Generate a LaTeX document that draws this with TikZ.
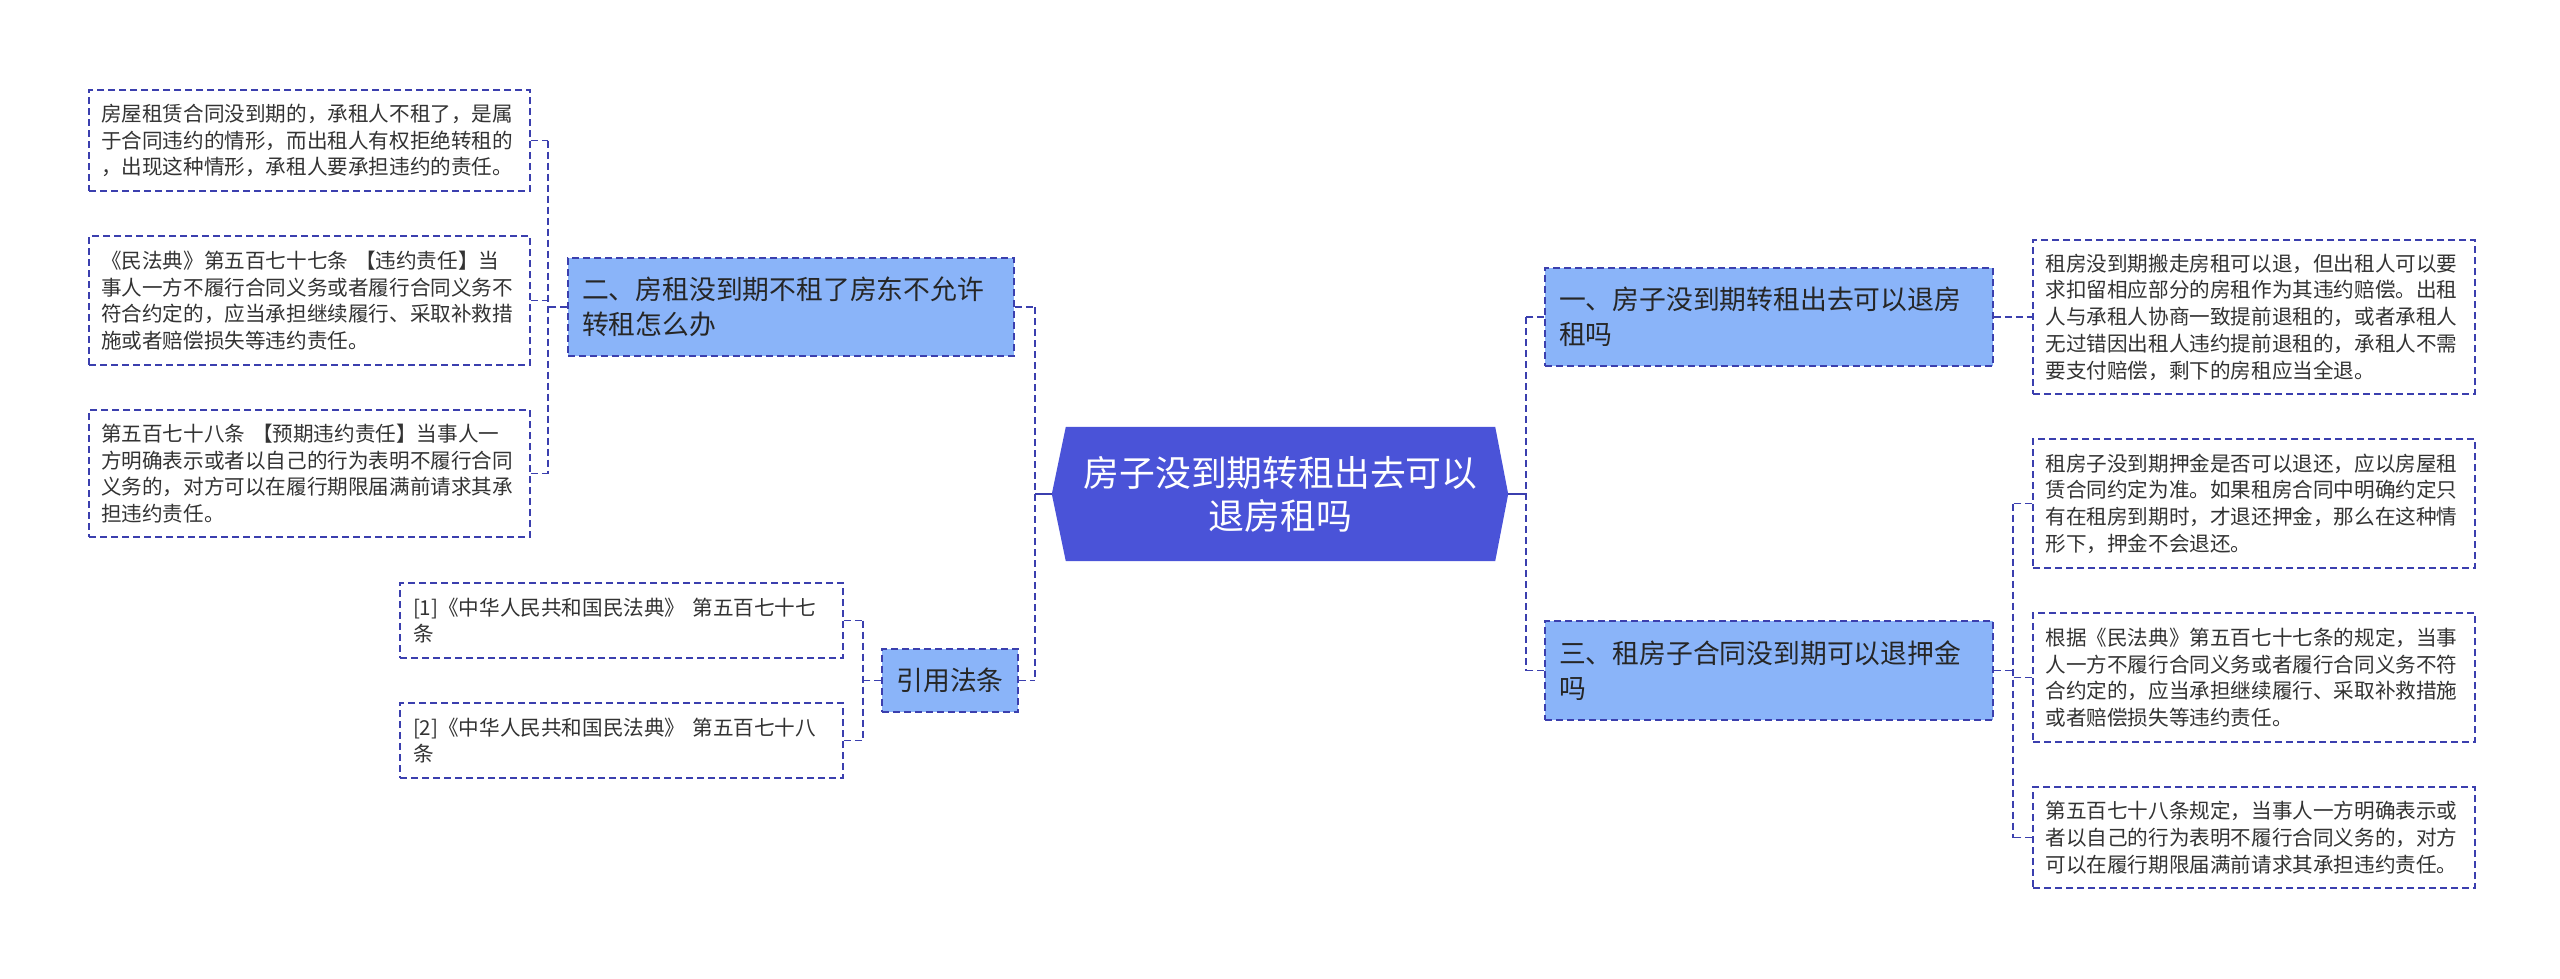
\documentclass[tikz,border=0pt]{standalone}
\usepackage{fontspec}
\setmainfont{Noto Sans CJK SC}
\usetikzlibrary{backgrounds}
\definecolor{rootblue}{HTML}{4A53D8}
\definecolor{lvlblue}{HTML}{8AB4F9}
\definecolor{linkblue}{HTML}{3B3FAE}
\definecolor{txtgray}{HTML}{333333}
\tikzset{
  conn/.style={draw=linkblue, line width=1.5pt, dash pattern=on 7pt off 4pt},
  solidconn/.style={draw=linkblue, line width=1.8pt},
  leafbox/.style={draw=linkblue, line width=1.5pt, dash pattern=on 7pt off 4pt,
     fill=white, minimum width=441pt, inner sep=0pt, text width=417pt, align=left,
     text=txtgray, font=\fontsize{20.6}{26.7}\selectfont},
  lvlbox/.style={draw=linkblue, line width=1.5pt, dash pattern=on 7pt off 4pt,
     fill=lvlblue, inner sep=0pt, align=left, text=black!85,
     font=\fontsize{26.8}{35}\selectfont},
  roottext/.style={inner sep=0pt, align=center, text=white, minimum width=429pt,
     minimum height=134pt, font=\fontsize{35.8}{43}\selectfont}
}
\begin{document}
\begin{tikzpicture}[x=1pt,y=-1pt]
\useasboundingbox (0,0) rectangle (2560,978);

% root
\node[roottext] (root) at (1280.5,494) {房子没到期转租出去可以\\退房租吗};
\begin{scope}[on background layer]
\fill[white] (0,0) rectangle (2560,978);
\fill[rootblue] (root.north west) -- (root.north east) -- ([xshift=13pt]root.east)
  -- (root.south east) -- (root.south west) -- ([xshift=-14pt]root.west) -- cycle;
\end{scope}
\coordinate (rootL) at ([xshift=-14pt]root.west);
\coordinate (rootR) at ([xshift=13pt]root.east);

% level 1
\node[lvlbox, minimum width=446pt, minimum height=98pt, text width=418pt] (n2) at (791,307)
  {二、房租没到期不租了房东不允许\\转租怎么办};
\node[lvlbox, minimum width=136pt, minimum height=63pt, align=center] (cite) at (950,680.5)
  {引用法条};
\node[lvlbox, minimum width=448pt, minimum height=98pt, text width=420pt] (n1) at (1769,317)
  {一、房子没到期转租出去可以退房\\租吗};
\node[lvlbox, minimum width=448pt, minimum height=99pt, text width=420pt] (n3) at (1769,670.5)
  {三、租房子合同没到期可以退押金\\吗};

% left leaves
\node[leafbox, minimum height=101pt] (L1) at (309.5,140.5)
  {房屋租赁合同没到期的，承租人不租了，是属\\于合同违约的情形，而出租人有权拒绝转租的\\，出现这种情形，承租人要承担违约的责任。};
\node[leafbox, minimum height=129pt] (L2) at (309.5,300.5)
  {《民法典》第五百七十七条 【违约责任】当\\事人一方不履行合同义务或者履行合同义务不\\符合约定的，应当承担继续履行、采取补救措\\施或者赔偿损失等违约责任。};
\node[leafbox, minimum height=127pt] (L3) at (309.5,473.5)
  {第五百七十八条 【预期违约责任】当事人一\\方明确表示或者以自己的行为表明不履行合同\\义务的，对方可以在履行期限届满前请求其承\\担违约责任。};

% citation leaves
\node[leafbox, minimum width=443pt, minimum height=75pt] (C1) at (621.5,620.5)
  {[1]《中华人民共和国民法典》 第五百七十七\\条};
\node[leafbox, minimum width=443pt, minimum height=75pt] (C2) at (621.5,740.5)
  {[2]《中华人民共和国民法典》 第五百七十八\\条};

% right leaves
\node[leafbox, minimum width=442pt, minimum height=154pt] (RA) at (2254,317)
  {租房没到期搬走房租可以退，但出租人可以要\\求扣留相应部分的房租作为其违约赔偿。出租\\人与承租人协商一致提前退租的，或者承租人\\无过错因出租人违约提前退租的，承租人不需\\要支付赔偿，剩下的房租应当全退。};
\node[leafbox, minimum width=442pt, minimum height=129pt] (RB1) at (2254,503.5)
  {租房子没到期押金是否可以退还，应以房屋租\\赁合同约定为准。如果租房合同中明确约定只\\有在租房到期时，才退还押金，那么在这种情\\形下，押金不会退还。};
\node[leafbox, minimum width=442pt, minimum height=129pt] (RB2) at (2254,677.5)
  {根据《民法典》第五百七十七条的规定，当事\\人一方不履行合同义务或者履行合同义务不符\\合约定的，应当承担继续履行、采取补救措施\\或者赔偿损失等违约责任。};
\node[leafbox, minimum width=442pt, minimum height=101pt] (RB3) at (2254,837.5)
  {第五百七十八条规定，当事人一方明确表示或\\者以自己的行为表明不履行合同义务的，对方\\可以在履行期限届满前请求其承担违约责任。};

% bars
\coordinate (barRoot L) at (1035,0);
\coordinate (barRoot R) at (1526,0);
\coordinate (barL) at (548,0);
\coordinate (barC) at (863,0);
\coordinate (barB) at (2013,0);

% root left
\draw[solidconn] (rootL) -- (rootL -| barRoot L);
\draw[conn] (barRoot L |- n2.east) -- (barRoot L |- cite.east);
\draw[conn] (n2.east) -- (n2.east -| barRoot L);
\draw[conn] (cite.east) -- (cite.east -| barRoot L);

% root right
\draw[solidconn] (rootR) -- (rootR -| barRoot R);
\draw[conn] (barRoot R |- n1.west) -- (barRoot R |- n3.west);
\draw[conn] (n1.west) -- (n1.west -| barRoot R);
\draw[conn] (n3.west) -- (n3.west -| barRoot R);

% n2 children
\draw[conn] (barL |- L1.east) -- (barL |- L3.east);
\draw[conn] (n2.west) -- (n2.west -| barL);
\draw[conn] (L1.east) -- (L1.east -| barL);
\draw[conn] (L2.east) -- (L2.east -| barL);
\draw[conn] (L3.east) -- (L3.east -| barL);

% cite children
\draw[conn] (barC |- C1.east) -- (barC |- C2.east);
\draw[conn] (cite.west) -- (cite.west -| barC);
\draw[conn] (C1.east) -- (C1.east -| barC);
\draw[conn] (C2.east) -- (C2.east -| barC);

% n1 child
\draw[conn] (n1.east) -- (RA.west);

% n3 children
\draw[conn] (barB |- RB1.west) -- (barB |- RB3.west);
\draw[conn] (n3.east) -- (n3.east -| barB);
\draw[conn] (RB1.west) -- (RB1.west -| barB);
\draw[conn] (RB2.west) -- (RB2.west -| barB);
\draw[conn] (RB3.west) -- (RB3.west -| barB);
\end{tikzpicture}
\end{document}
